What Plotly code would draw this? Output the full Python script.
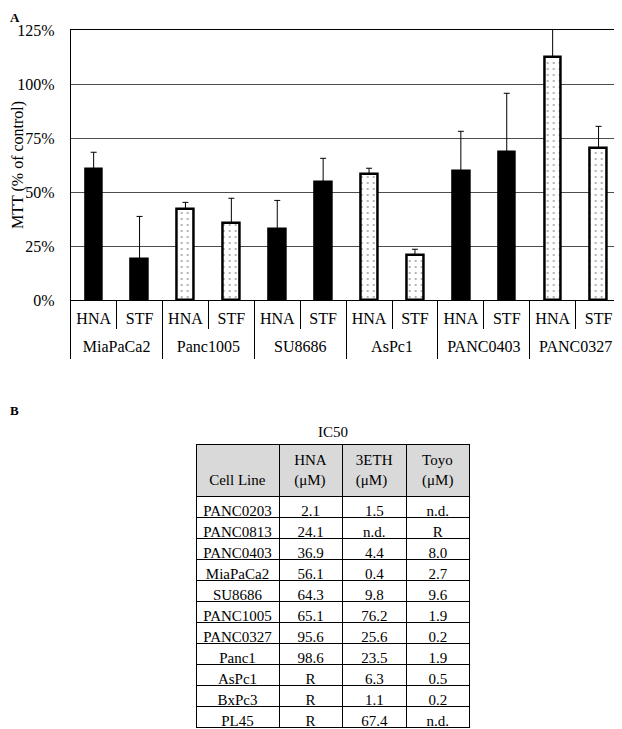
import plotly.graph_objects as go

# the page body adds an 8px margin, so the figure is a bit smaller than the window
W, H = 614, 721

# --- panel A data: MTT viability (% of control)
groups = ["MiaPaCa2", "Panc1005", "SU8686", "AsPc1", "PANC0403", "PANC0327"]
treatments = ["HNA", "STF"]
mtt_mean = [60.6, 19.0, 42.0, 35.5, 32.9, 54.5, 58.4, 21.0, 59.6, 68.4, 112.6, 70.5]
mtt_err = [7.8, 19.7, 3.2, 11.6, 13.2, 11.1, 2.6, 2.5, 18.5, 27.3, 15.0, 9.9]
y_ticks = [0, 25, 50, 75, 100, 125]

# --- panel B data: IC50 table
cell_lines = ["PANC0203", "PANC0813", "PANC0403", "MiaPaCa2", "SU8686", "PANC1005",
              "PANC0327", "Panc1", "AsPc1", "BxPc3", "PL45"]
ic50_hna = ["2.1", "24.1", "36.9", "56.1", "64.3", "65.1", "95.6", "98.6", "R", "R", "R"]
ic50_3eth = ["1.5", "n.d.", "4.4", "0.4", "9.8", "76.2", "25.6", "23.5", "6.3", "1.1", "67.4"]
ic50_toyo = ["n.d.", "R", "8.0", "2.7", "9.6", "1.9", "0.2", "1.9", "0.5", "0.2", "n.d."]
table_header = ["\u00a0<br>Cell Line", "HNA<br>(μM)", "3ETH<br>(μM)", "Toyo<br>(μM)"]

dotted_groups = {"Panc1005", "AsPc1", "PANC0327"}

x_outer = [g for g in groups for _ in treatments]
x_inner = [t for _ in groups for t in treatments]
bar_keys = [f"{g} {t}" for g, t in zip(x_outer, x_inner)]
is_dotted = [g in dotted_groups for g in x_outer]

n_bars = len(bar_keys)
n_sub = len(treatments)
x_range = [-0.5, n_bars - 0.5]
group_centers = [i * n_sub + (n_sub - 1) / 2 for i in range(len(groups))]
all_bounds = [i - 0.5 for i in range(n_bars + 1)]
group_bounds = [i * n_sub - 0.5 for i in range(len(groups) + 1)]

FONT = "Liberation Serif, Times New Roman, serif"


def px_x(v):
    return v / W


def px_y(v):
    return 1 - v / H


fig = go.Figure()

fig.add_trace(go.Bar(
    x=bar_keys,
    y=mtt_mean,
    width=0.365,
    marker=dict(
        color=["white" if d else "black" for d in is_dotted],
        line=dict(color="black", width=2.5),
        pattern=dict(shape=["." if d else "" for d in is_dotted],
                     fgcolor="black", bgcolor="white", size=6, solidity=0.1),
    ),
    error_y=dict(type="data", array=mtt_err, arrayminus=[0] * len(mtt_err),
                 symmetric=False, color="black", thickness=1, width=3),
    showlegend=False,
))

# empty traces so the helper axes (group labels, separators) get drawn
for ax in ["x2", "x3", "x4"]:
    fig.add_trace(go.Scatter(x=[], y=[], xaxis=ax, yaxis="y", showlegend=False,
                             hoverinfo="skip"))

fig.add_trace(go.Table(
    domain=dict(x=[px_x(188), px_x(461)], y=[px_y(721), px_y(436)]),
    columnwidth=[83, 63, 64.5, 62.5],
    header=dict(
        values=table_header,
        fill_color="#d9d9d9",
        line=dict(color="black", width=1),
        font=dict(family=FONT, size=15, color="black"),
        align="center",
        height=40,
    ),
    cells=dict(
        values=[cell_lines, ic50_hna, ic50_3eth, ic50_toyo],
        fill_color="white",
        line=dict(color="black", width=1),
        font=dict(family=FONT, size=15, color="black"),
        align="center",
        height=21,
    ),
))

plot_dom_x = [px_x(62.7), px_x(613.5)]
extra_x = dict(overlaying="x", anchor="y", type="linear", range=x_range,
               showgrid=False, zeroline=False, showline=False, automargin=False)

fig.update_layout(
    width=W, height=H,
    margin=dict(l=0, r=0, t=0, b=0),
    paper_bgcolor="white", plot_bgcolor="white",
    font=dict(family=FONT, size=16, color="black"),
    bargap=0,
    xaxis=dict(
        domain=plot_dom_x, type="category", range=x_range,
        showline=True, linecolor="black", linewidth=1, mirror=True,
        ticks="", tickvals=bar_keys, ticktext=x_inner,
        ticklabelstandoff=4, tickfont=dict(size=16),
        automargin=False,
    ),
    # group names under the treatment labels
    xaxis2=dict(extra_x, tickvals=group_centers, ticktext=groups, ticks="",
                ticklabelstandoff=35, tickfont=dict(size=16)),
    # short separators between every bar slot
    xaxis3=dict(extra_x, tickvals=all_bounds, showticklabels=False,
                ticks="outside", ticklen=28, tickcolor="black", tickwidth=1),
    # long separators between cell lines
    xaxis4=dict(extra_x, tickvals=group_bounds, showticklabels=False,
                ticks="outside", ticklen=58, tickcolor="black", tickwidth=1),
    yaxis=dict(
        domain=[px_y(292), px_y(22)],
        range=[0, 125], tickvals=y_ticks, ticktext=[f"{v}%" for v in y_ticks],
        showgrid=True, gridcolor="#4d4d4d", gridwidth=1,
        showline=True, linecolor="black", linewidth=1, mirror=True,
        ticks="", ticklabelstandoff=12, tickfont=dict(size=16),
        zeroline=False,
        automargin=False,
    ),
    annotations=[
        dict(text="MTT (% of control)", textangle=-90, x=px_x(10), y=px_y(157),
             xref="paper", yref="paper", xanchor="center", yanchor="middle",
             showarrow=False, font=dict(size=16)),
        dict(text="<b>A</b>", x=0, y=1, xref="paper", yref="paper",
             xanchor="left", yanchor="top", showarrow=False, font=dict(size=13)),
        dict(text="<b>B</b>", x=0, y=px_y(393), xref="paper", yref="paper",
             xanchor="left", yanchor="top", showarrow=False, font=dict(size=13)),
        dict(text="IC50", x=px_x(324.5), y=px_y(424), xref="paper", yref="paper",
             xanchor="center", yanchor="middle", showarrow=False, font=dict(size=15)),
    ],
)

fig.write_html("out.html")
